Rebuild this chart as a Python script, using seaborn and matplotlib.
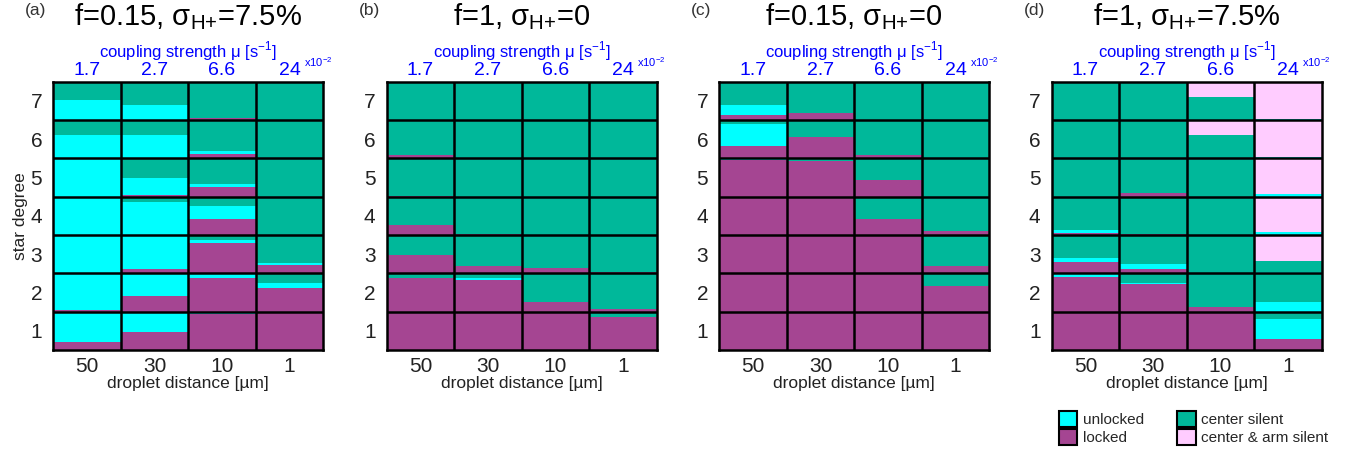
import numpy as np
import pandas as pd
import matplotlib
matplotlib.use("Agg")
import matplotlib.pyplot as plt
from matplotlib.patches import Patch
import seaborn as sns

# axis labels
distances = ["50", "30", "10", "1"]          # droplet distance [um]
mu_labels = ["1.7", "2.7", "6.6", "24"]      # coupling strength x1e-2
degrees = [1, 2, 3, 4, 5, 6, 7]              # star degree
categories = ["locked", "unlocked", "center silent", "center & arm silent"]
colors = {"locked": "#A54592", "unlocked": "#00FFFF",
          "center silent": "#00B89A", "center & arm silent": "#FFCCFF"}

panel_tags = ["(a)", "(b)", "(c)", "(d)"]
panel_titles = [r"f=0.15, σ$_{\mathregular{H{+}}}$=7.5%",
                r"f=1, σ$_{\mathregular{H{+}}}$=0",
                r"f=0.15, σ$_{\mathregular{H{+}}}$=0",
                r"f=1, σ$_{\mathregular{H{+}}}$=7.5%"]

# fractions per cell: rows = star degree 1..7, columns = 50, 30, 10, 1 um
# panel (a) f=0.15, sigma=7.5%
locked_a = [[0.22, 0.48, 0.95, 1.00],
            [0.05, 0.42, 0.87, 0.62],
            [0.00, 0.12, 0.80, 0.22],
            [0.00, 0.00, 0.42, 0.00],
            [0.00, 0.05, 0.24, 0.00],
            [0.00, 0.00, 0.11, 0.00],
            [0.00, 0.00, 0.04, 0.00]]
unlocked_a = [[0.78, 0.52, 0.05, 0.00],
              [0.95, 0.58, 0.13, 0.12],
              [0.97, 0.88, 0.07, 0.06],
              [1.00, 0.86, 0.34, 0.00],
              [1.00, 0.43, 0.08, 0.00],
              [0.60, 0.62, 0.07, 0.00],
              [0.52, 0.40, 0.00, 0.00]]
silent_a = [[0.00, 0.00, 0.00, 0.00],
            [0.00, 0.00, 0.00, 0.26],
            [0.03, 0.00, 0.13, 0.72],
            [0.00, 0.14, 0.24, 1.00],
            [0.00, 0.52, 0.68, 1.00],
            [0.40, 0.38, 0.82, 1.00],
            [0.48, 0.60, 0.96, 1.00]]
armsilent_a = [[0.0, 0.0, 0.0, 0.0]] * 7

# panel (b) f=1, sigma=0
locked_b = [[1.00, 1.00, 1.00, 0.85],
            [0.88, 0.83, 0.24, 0.07],
            [0.48, 0.19, 0.14, 0.03],
            [0.26, 0.03, 0.00, 0.00],
            [0.03, 0.00, 0.00, 0.00],
            [0.08, 0.00, 0.00, 0.00],
            [0.00, 0.00, 0.00, 0.00]]
unlocked_b = [[0.00, 0.00, 0.00, 0.00],
              [0.00, 0.04, 0.00, 0.00],
              [0.00, 0.00, 0.00, 0.00],
              [0.00, 0.00, 0.00, 0.00],
              [0.00, 0.00, 0.00, 0.00],
              [0.00, 0.00, 0.00, 0.00],
              [0.00, 0.00, 0.00, 0.00]]
silent_b = [[0.00, 0.00, 0.00, 0.15],
            [0.12, 0.13, 0.76, 0.93],
            [0.52, 0.81, 0.86, 0.97],
            [0.74, 0.97, 1.00, 1.00],
            [0.97, 1.00, 1.00, 1.00],
            [0.92, 1.00, 1.00, 1.00],
            [1.00, 1.00, 1.00, 1.00]]
armsilent_b = [[0.0, 0.0, 0.0, 0.0]] * 7

# panel (c) f=0.15, sigma=0
locked_c = [[1.00, 1.00, 1.00, 1.00],
            [1.00, 1.00, 1.00, 0.67],
            [1.00, 1.00, 0.97, 0.19],
            [1.00, 1.00, 0.43, 0.10],
            [0.96, 0.93, 0.44, 0.00],
            [0.32, 0.56, 0.09, 0.00],
            [0.13, 0.18, 0.00, 0.00]]
unlocked_c = [[0.00, 0.00, 0.00, 0.00],
              [0.00, 0.00, 0.00, 0.00],
              [0.00, 0.00, 0.00, 0.00],
              [0.00, 0.00, 0.00, 0.00],
              [0.03, 0.00, 0.00, 0.00],
              [0.58, 0.00, 0.00, 0.00],
              [0.27, 0.00, 0.00, 0.00]]
silent_c = [[0.00, 0.00, 0.00, 0.00],
            [0.00, 0.00, 0.00, 0.33],
            [0.00, 0.00, 0.03, 0.81],
            [0.00, 0.00, 0.57, 0.90],
            [0.01, 0.07, 0.56, 1.00],
            [0.10, 0.44, 0.91, 1.00],
            [0.60, 0.82, 1.00, 1.00]]
armsilent_c = [[0.0, 0.0, 0.0, 0.0]] * 7

# panel (d) f=1, sigma=7.5%
locked_d = [[1.00, 1.00, 1.00, 0.28],
            [0.91, 0.71, 0.12, 0.00],
            [0.30, 0.12, 0.00, 0.00],
            [0.06, 0.03, 0.00, 0.00],
            [0.00, 0.09, 0.00, 0.00],
            [0.00, 0.00, 0.00, 0.00],
            [0.00, 0.00, 0.00, 0.00]]
unlocked_d = [[0.00, 0.00, 0.00, 0.52],
              [0.09, 0.03, 0.00, 0.26],
              [0.10, 0.12, 0.00, 0.04],
              [0.07, 0.00, 0.00, 0.07],
              [0.00, 0.00, 0.00, 0.07],
              [0.00, 0.00, 0.00, 0.04],
              [0.00, 0.00, 0.00, 0.02]]
silent_d = [[0.00, 0.00, 0.00, 0.20],
            [0.00, 0.26, 0.88, 0.74],
            [0.60, 0.76, 1.00, 0.29],
            [0.87, 0.97, 1.00, 0.00],
            [1.00, 0.91, 1.00, 0.00],
            [1.00, 1.00, 0.62, 0.00],
            [1.00, 1.00, 0.60, 0.00]]
armsilent_d = [[0.00, 0.00, 0.00, 0.00],
               [0.00, 0.00, 0.00, 0.00],
               [0.00, 0.00, 0.00, 0.67],
               [0.00, 0.00, 0.00, 0.93],
               [0.00, 0.00, 0.00, 0.93],
               [0.00, 0.00, 0.38, 0.96],
               [0.00, 0.00, 0.40, 0.98]]

panels = [(locked_a, unlocked_a, silent_a, armsilent_a),
          (locked_b, unlocked_b, silent_b, armsilent_b),
          (locked_c, unlocked_c, silent_c, armsilent_c),
          (locked_d, unlocked_d, silent_d, armsilent_d)]

# long table, one key per (star degree, category) so the stack runs through all rows
records = []
for p, arrays in enumerate(panels):
    for k, cat in enumerate(categories):
        for i, deg in enumerate(degrees):
            for j in range(len(distances)):
                records.append({"panel": p, "col": j, "key": f"{deg}|{cat}",
                                "frac": arrays[k][i][j]})
df = pd.DataFrame(records)

# seaborn stacks the first hue level on top
hue_order = [f"{d}|{c}" for d in reversed(degrees) for c in reversed(categories)]
pal = {key: colors[key.split("|")[1]] for key in hue_order}

sns.set_style("white")
plt.rcParams["font.family"] = ["Liberation Sans", "DejaVu Sans"]

fig = plt.figure(figsize=(13.6, 4.61), dpi=100)
W, H = 1360, 461
lefts = [53.3, 386.7, 719.3, 1051.7]
ax_w, ax_top, ax_bot = 270, 81.7, 350

for p in range(4):
    ax = fig.add_axes([lefts[p] / W, 1 - ax_bot / H, ax_w / W, (ax_bot - ax_top) / H])
    sns.histplot(data=df[df["panel"] == p], x="col", weights="frac", hue="key",
                 hue_order=hue_order, palette=pal, multiple="stack", discrete=True,
                 linewidth=0, alpha=1, legend=False, ax=ax)
    ax.set_xlim(-0.5, 3.5)
    ax.set_ylim(0, 7)
    for y in range(1, 7):
        ax.axhline(y, color="black", lw=1.8, zorder=5)
    for x in np.arange(0.5, 3, 1):
        ax.axvline(x, color="black", lw=1.8, zorder=5)
    for s in ax.spines.values():
        s.set_visible(True)
        s.set_color("black")
        s.set_linewidth(1.8)
        s.set_zorder(6)

    ax.set_yticks(np.arange(7) + 0.5, labels=[str(d) for d in degrees])
    ax.set_xticks(range(4), labels=distances)
    ax.tick_params(axis="both", length=0, labelsize=15, colors="#222222")
    ax.tick_params(axis="x", pad=5)
    ax.tick_params(axis="y", pad=8)
    ax.set_xlabel("droplet distance [µm]", fontsize=12.5, color="#222222", labelpad=0)
    if p == 0:
        ax.set_ylabel("star degree", fontsize=12.5, color="#222222", labelpad=2)
    else:
        ax.set_ylabel("")

    top = ax.twiny()
    top.set_xlim(ax.get_xlim())
    top.set_xticks(range(4), labels=mu_labels)
    top.tick_params(axis="x", length=0, labelsize=14, colors="blue", pad=2)
    top.set_xlabel(r"coupling strength μ [s$^{\mathregular{-1}}$]", color="blue",
                   fontsize=12, labelpad=3)
    for s in top.spines.values():
        s.set_visible(False)
    ax.text(0.927, 1.073, r"x10$^{\mathregular{-2}}$", transform=ax.transAxes,
            color="blue", fontsize=8, ha="left", va="center")

    ax.text(0.5, 1.211, panel_titles[p], transform=ax.transAxes, fontsize=21,
            ha="center", va="baseline", color="black")
    ax.text(-0.104, 1.293, panel_tags[p], transform=ax.transAxes, fontsize=12.5,
            ha="left", va="top", color="#333333")

handles = [Patch(facecolor=colors[c], edgecolor="black", linewidth=1.5, label=c)
           for c in ["unlocked", "locked", "center silent", "center & arm silent"]]
fig.legend(handles=handles, loc="upper left", bbox_to_anchor=(1059 / W, 1 - 411 / H),
           ncol=2, frameon=False, fontsize=11, handlelength=1.2, handleheight=1.2,
           handletextpad=0.35, columnspacing=2.2, labelspacing=0.15,
           borderpad=0, borderaxespad=0)

fig.savefig("out.png", dpi=100)
